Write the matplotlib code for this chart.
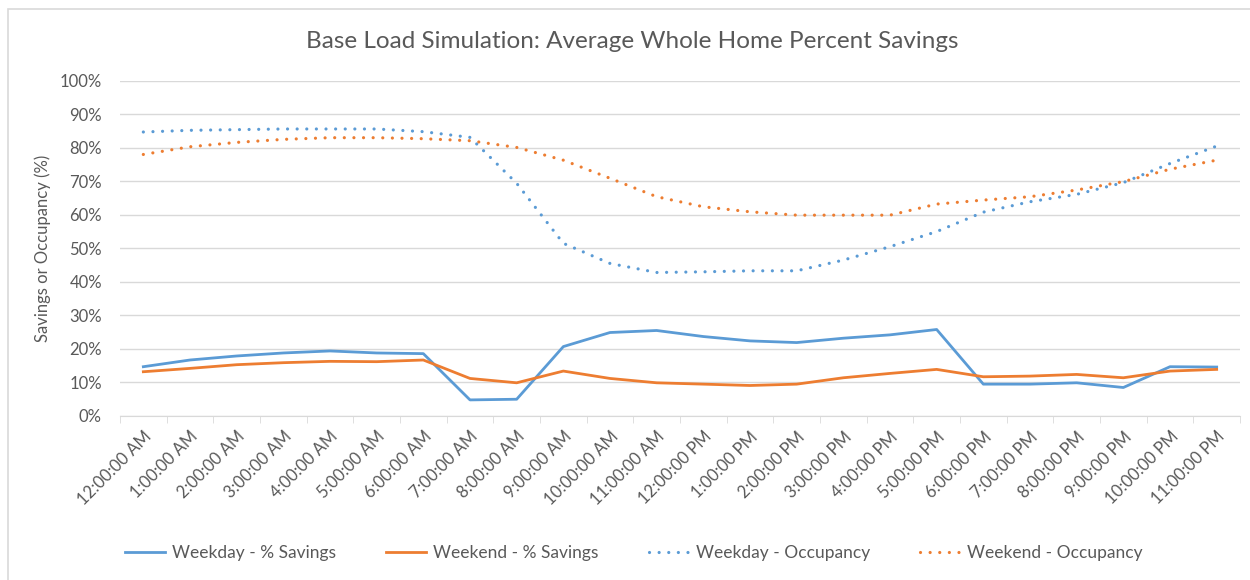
import matplotlib.pyplot as plt
from matplotlib.patches import Rectangle
from matplotlib.ticker import FixedLocator, PercentFormatter

plt.rcParams['font.family'] = ['Lato', 'DejaVu Sans']

hours = ['12:00:00 AM', '1:00:00 AM', '2:00:00 AM', '3:00:00 AM', '4:00:00 AM',
         '5:00:00 AM', '6:00:00 AM', '7:00:00 AM', '8:00:00 AM', '9:00:00 AM',
         '10:00:00 AM', '11:00:00 AM', '12:00:00 PM', '1:00:00 PM', '2:00:00 PM',
         '3:00:00 PM', '4:00:00 PM', '5:00:00 PM', '6:00:00 PM', '7:00:00 PM',
         '8:00:00 PM', '9:00:00 PM', '10:00:00 PM', '11:00:00 PM']

weekday_savings = [14.7, 16.7, 17.9, 18.8, 19.4, 18.8, 18.6, 4.8, 5.0, 20.7, 24.9, 25.5,
                   23.7, 22.4, 21.9, 23.2, 24.2, 25.8, 9.5, 9.5, 9.9, 8.5, 14.7, 14.6]
weekend_savings = [13.2, 14.2, 15.3, 15.9, 16.3, 16.2, 16.7, 11.2, 9.9, 13.4, 11.2, 9.9,
                   9.5, 9.1, 9.5, 11.4, 12.7, 13.9, 11.7, 11.9, 12.4, 11.4, 13.4, 13.9]
weekday_occ = [84.7, 85.2, 85.4, 85.6, 85.6, 85.6, 84.8, 83.1, 69.4, 51.5, 45.5, 42.8,
               43.0, 43.3, 43.3, 46.5, 50.5, 55.0, 60.8, 63.9, 66.1, 69.6, 75.3, 80.5]
weekend_occ = [78.0, 80.3, 81.6, 82.5, 83.0, 83.0, 82.7, 82.1, 80.1, 76.3, 70.9, 65.4,
               62.4, 60.9, 59.9, 59.9, 59.9, 63.2, 64.4, 65.4, 67.4, 69.9, 73.6, 76.3]

blue = '#5b9bd5'
orange = '#ed7d31'
txt = '#595959'

fig = plt.figure(figsize=(12.5, 5.8), dpi=100)
# chart frame (cut off at right and bottom in the original)
fig.patches.append(Rectangle((8 / 1250, -0.1), 1.2, 1 - 9 / 580 + 0.1, transform=fig.transFigure,
                             fill=False, edgecolor='#d9d9d9', linewidth=1.2))
ax = fig.add_axes([120 / 1250, 1 - 416 / 580, 1120 / 1250, (416 - 80.7) / 580])

x = list(range(len(hours)))
ax.plot(x, weekday_savings, color=blue, lw=2.0, label='Weekday - % Savings')
ax.plot(x, weekend_savings, color=orange, lw=2.0, label='Weekend - % Savings')
dots = (0, (0.01, 3.0))
ax.plot(x, weekday_occ, color=blue, lw=2.3, linestyle=dots, dash_capstyle='round',
        label='Weekday - Occupancy')
ax.plot(x, weekend_occ, color=orange, lw=2.3, linestyle=dots, dash_capstyle='round',
        label='Weekend - Occupancy')

ax.set_xlim(-0.5, len(hours) - 0.5)
ax.set_ylim(0, 100)
ax.set_yticks(range(0, 101, 10))
ax.yaxis.set_major_formatter(PercentFormatter(decimals=0))
ax.grid(axis='y', color='#d9d9d9', lw=1)
ax.set_axisbelow(True)

ax.set_xticks(x)
ax.set_xticklabels(hours, rotation=45, ha='right', rotation_mode='anchor')
ax.xaxis.set_minor_locator(FixedLocator([i - 0.5 for i in range(len(hours) + 1)]))
ax.tick_params(axis='x', which='major', length=0, pad=9, labelsize=12, labelcolor=txt)
ax.tick_params(axis='x', which='minor', length=5, color='#d9d9d9')
ax.tick_params(axis='y', length=0, labelsize=12, labelcolor=txt, pad=13)

for s in ['top', 'right', 'left']:
    ax.spines[s].set_visible(False)
ax.spines['bottom'].set_color('#d9d9d9')

ax.set_ylabel('Savings or Occupancy (%)', fontsize=12, color=txt, labelpad=6)
fig.text(632 / 1250, 1 - 42 / 580, 'Base Load Simulation: Average Whole Home Percent Savings',
         fontsize=17.5, color=txt, ha='center', va='center')

fig.legend(loc='center', bbox_to_anchor=(634 / 1250, 1 - 553 / 580), ncol=4, frameon=False,
           fontsize=12.5, labelcolor=txt, handlelength=2.3, handletextpad=0.4,
           columnspacing=2.9)

fig.savefig('out.png', dpi=100)
